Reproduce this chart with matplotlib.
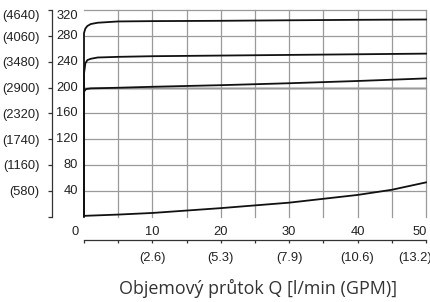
import matplotlib
matplotlib.use('Agg')
import matplotlib.pyplot as plt

# pressure curves: flow Q [l/min] vs pressure [bar]
q_top = [0, 0, 0.2, 0.5, 1, 2, 5, 10, 20, 30, 40, 50]
p_top = [0, 285, 292, 296, 299, 301, 303, 303.5, 304, 304.8, 305.5, 306]

q_mid = [0, 0, 0.2, 0.5, 1, 2, 5, 10, 20, 30, 40, 50]
p_mid = [0, 222, 238, 243, 245, 247, 248, 249, 250, 251, 252, 253]

q_low = [0, 0, 0.3, 1, 5, 10, 20, 30, 40, 50]
p_low = [0, 194, 198, 199, 200, 201.5, 204, 207, 210.5, 214.5]

q_bot = [0, 5, 10, 20, 30, 40, 45, 50]
p_bot = [1, 3, 5.5, 13, 21.5, 33.5, 41.5, 53]

bar_ticks = [40, 80, 120, 160, 200, 240, 280, 320]
psi_labels = ['(580)', '(1160)', '(1740)', '(2320)', '(2900)', '(3480)', '(4060)', '(4640)']
lpm_ticks = [10, 20, 30, 40, 50]
gpm_labels = ['(2.6)', '(5.3)', '(7.9)', '(10.6)', '(13.2)']

num_font = ['Liberation Sans', 'DejaVu Sans']
fs = 9.3
txt = '#222222'

fig = plt.figure(figsize=(4.31, 3.02), dpi=100)
ax = fig.add_axes([84 / 431, 85.5 / 302, 342 / 431, 206 / 302])
ax.set_xlim(0, 50)
ax.set_ylim(0, 320)

# grid
for v in range(40, 321, 40):
    ax.axhline(v, color='#9a9a9a', lw=0.9, zorder=1, clip_on=False)
for v in range(5, 51, 5):
    ax.axvline(v, color='#9a9a9a', lw=0.9, zorder=1, clip_on=False)
ax.axhline(200, color='#cfcfcf', lw=2.2, zorder=0.9)

for q, p in [(q_top, p_top), (q_mid, p_mid), (q_low, p_low), (q_bot, p_bot)]:
    ax.plot(q, p, color='#111111', lw=1.3, zorder=3, clip_on=False)

for s in ['top', 'right']:
    ax.spines[s].set_visible(False)
ax.spines['left'].set_position(('outward', 23))
ax.spines['left'].set_bounds(0, 320)
ax.spines['bottom'].set_position(('outward', 17))
ax.spines['left'].set_color('#333333')
ax.spines['bottom'].set_color('#333333')
ax.spines['left'].set_linewidth(0.9)
ax.spines['bottom'].set_linewidth(0.9)

ax.set_yticks([0] + bar_ticks)
ax.set_yticklabels([''] + psi_labels, family=num_font, fontsize=fs, color=txt)
ax.get_yticklabels()[-1].set_va('top')
ax.tick_params(axis='y', direction='out', length=3, width=0.9, pad=6, color='#333333')

ax.set_xticks(range(0, 51, 5))
ax.set_xticklabels([])
ax.tick_params(axis='x', direction='out', length=2.5, width=0.9, color='#333333')

ytr = ax.get_yaxis_transform()
for v in bar_ticks:
    ax.text(-0.018, v, str(v), transform=ytr, ha='right',
            va='top' if v == 320 else 'center', family=num_font, fontsize=fs, color=txt)

xtr = ax.get_xaxis_transform()
ax.text(-0.015, -0.074, '0', transform=ax.transAxes, ha='right', va='center',
        family=num_font, fontsize=fs, color=txt)
for v, g in zip(lpm_ticks, gpm_labels):
    ha = 'right' if v == 50 else 'center'
    ax.text(v + (0.15 if v == 50 else 0), -0.074, str(v), transform=xtr, ha=ha, va='center',
            family=num_font, fontsize=fs, color=txt)
    gx = 50.9 if v == 50 else v
    ax.text(gx, -0.2015, g, transform=xtr, ha=ha, va='center',
            family=num_font, fontsize=fs, color=txt)

ax.text(0.51, -0.35, 'Objemový průtok Q [l/min (GPM)]', transform=ax.transAxes,
        ha='center', va='center', family=['Open Sans', 'DejaVu Sans'],
        fontsize=12.9, color='#333333')

fig.savefig('out.png', dpi=100)
